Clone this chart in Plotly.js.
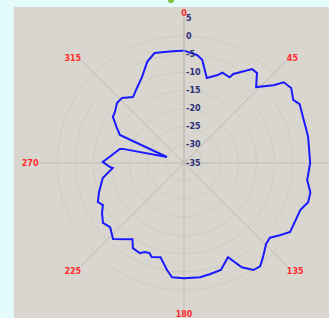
<!DOCTYPE html>
<html>
<head>
<meta charset="utf-8">
<script src="https://cdn.plot.ly/plotly-3.0.1.min.js"></script>
<style>html,body{margin:0;padding:0;background:#e4fbfb;}#chart{width:329px;height:318px;}</style>
</head>
<body>
<div id="chart"></div>
<script>
// Antenna pattern: angle (deg, clockwise from top) and gain (dB)
var angles = [0, 7, 10, 15, 21, 23, 28, 29, 36, 39, 43.5, 49, 51, 55, 60, 63, 73, 78, 90, 98, 103, 107.5, 112, 123, 127, 131, 134.6, 140, 143.6, 147, 151, 155, 161, 167, 172, 180, 186, 189, 194, 199, 201, 204, 206, 211, 214, 223, 229, 233.5, 238.6, 242.6, 245.6, 251, 257, 259.5, 266, 267, 270.7, 276.3, 282.3, 283, 289.4, 293.6, 297.6, 303, 306.5, 311.8, 316.4, 322.3, 326.7, 334, 340, 345, 350, 356, 360];
var gains = [-4.0, -5.0, -6.1, -10.7, -9.0, -7.9, -8.2, -6.9, -3.0, -3.0, -6.1, -2.3, 0.4, 1.1, -0.2, 0.8, 0.0, 0.0, -0.2, -0.7, 0.8, 0.9, -0.4, -0.1, -1.9, -3.6, -3.2, -1.1, 0.4, 0.2, -2.1, -6.3, -3.8, -3.5, -3.2, -3.2, -3.3, -5.1, -8.2, -7.6, -8.4, -8.1, -7.3, -7.6, -9.6, -6.3, -8.0, -7.2, -8.5, -9.8, -8.9, -10.2, -11.7, -12.2, -15.3, -14.5, -12.6, -15.0, -16.9, -17.7, -30.0, -15.7, -14.1, -11.6, -11.3, -10.2, -10.2, -12.0, -10.9, -8.6, -5.3, -3.6, -3.9, -4.0, -4.0];
var angleTicks = [0, 45, 90, 135, 180, 225, 270, 315];
var angleLabels = ['0', '45', '', '135', '180', '225', '270', '315'];
var radialTicks = [5, 0, -5, -10, -15, -20, -25, -30, -35];
var radialLabels = ['5', '0', '-5', '-10', '-15', '-20', '-25', '-30', '-35'];

var W = 329, H = 318;
var trace = {
  type: 'scatterpolar', mode: 'lines',
  r: gains, theta: angles,
  line: {color: '#1a1aff', width: 2},
  hoverinfo: 'skip'
};
var layout = {
  width: W, height: H,
  margin: {l: 0, r: 0, t: 0, b: 0},
  paper_bgcolor: '#e4fbfb',
  showlegend: false,
  shapes: [
    {type: 'rect', xref: 'paper', yref: 'paper', x0: 14 / W, x1: 1, y0: 0, y1: 1 - 7 / H,
     fillcolor: '#d9d6cf', line: {width: 0}, layer: 'below'},
    {type: 'circle', xref: 'paper', yref: 'paper', x0: 168 / W, x1: 174 / W, y0: 1 - 3 / H, y1: 1 + 2 / H,
     fillcolor: '#7cc23a', line: {width: 0}, layer: 'above'}
  ],
  polar: {
    domain: {x: [39 / W, 329 / W], y: [10 / H, 300 / H]},
    bgcolor: 'rgba(0,0,0,0)',
    angularaxis: {
      rotation: 90, direction: 'clockwise',
      tickmode: 'array', tickvals: angleTicks, ticktext: angleLabels,
      ticks: '', showline: false,
      gridcolor: '#bdbab3', gridwidth: 1,
      tickfont: {family: 'DejaVu Sans', size: 8, color: '#ff2a2a', weight: 'bold'}
    },
    radialaxis: {
      range: [-35, 5], angle: 90, side: 'clockwise', tickangle: 90,
      tickmode: 'array', tickvals: radialTicks, ticktext: radialLabels,
      ticks: '', showline: true, linecolor: '#bdbab3', linewidth: 1,
      gridcolor: '#cfccc5', gridwidth: 1,
      tickfont: {family: 'DejaVu Sans', size: 8, color: '#2e2e7a', weight: 'bold'}
    }
  }
};
Plotly.newPlot('chart', [trace], layout, {displayModeBar: false, staticPlot: true});
</script>
</body>
</html>
